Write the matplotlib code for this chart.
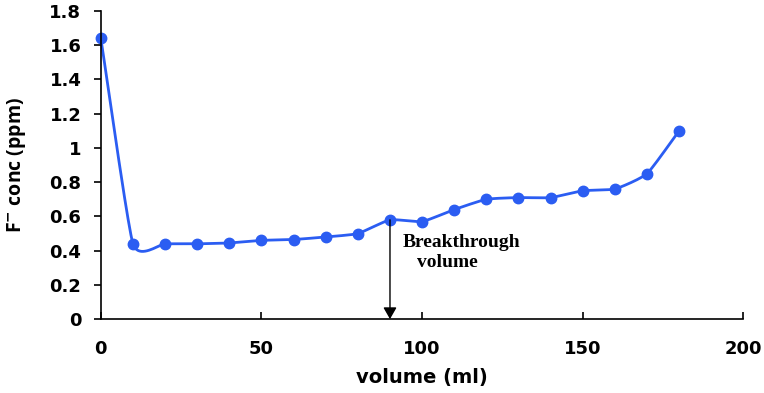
import numpy as np
import matplotlib
matplotlib.use("Agg")
import matplotlib.pyplot as plt

volume = [0, 10, 20, 30, 40, 50, 60, 70, 80, 90, 100, 110, 120, 130, 140, 150, 160, 170, 180]
conc = [1.64, 0.44, 0.44, 0.44, 0.445, 0.46, 0.465, 0.48, 0.50, 0.58, 0.57, 0.64, 0.70,
        0.71, 0.71, 0.75, 0.76, 0.85, 1.10]
x_ticks = [0, 50, 100, 150, 200]
y_ticks = [0, 0.2, 0.4, 0.6, 0.8, 1, 1.2, 1.4, 1.6, 1.8]
breakthrough = 90


def smooth(x, y, n=20, tension=0.5):
    # Hermite smoothing with damped tangents, like the spreadsheet "smoothed line"
    x = np.asarray(x, float)
    y = np.asarray(y, float)
    px = np.concatenate([[2 * x[0] - x[1]], x, [2 * x[-1] - x[-2]]])
    py = np.concatenate([[2 * y[0] - y[1]], y, [2 * y[-1] - y[-2]]])
    t = np.linspace(0, 1, n, endpoint=False)
    h00 = 2 * t ** 3 - 3 * t ** 2 + 1
    h10 = t ** 3 - 2 * t ** 2 + t
    h01 = -2 * t ** 3 + 3 * t ** 2
    h11 = t ** 3 - t ** 2
    xs, ys = [], []
    for i in range(1, len(px) - 2):
        for p, out in ((px, xs), (py, ys)):
            m1 = tension * (p[i + 1] - p[i - 1]) / 2
            m2 = tension * (p[i + 2] - p[i]) / 2
            out.extend(h00 * p[i] + h10 * m1 + h01 * p[i + 1] + h11 * m2)
    xs.append(x[-1])
    ys.append(y[-1])
    return np.array(xs), np.array(ys)


blue = '#2b5df2'

fig = plt.figure(figsize=(7.64, 3.93), dpi=100)
ax = fig.add_axes([0.132, 0.188, 0.841, 0.784])

sx, sy = smooth(volume, conc)
ax.plot(sx, sy, color=blue, lw=2, clip_on=False)
ax.plot(volume, conc, 'o', color=blue, ms=7.5, clip_on=False)

bi = volume.index(breakthrough)
ax.annotate('', xy=(breakthrough, 0), xytext=(breakthrough, conc[bi]),
            arrowprops=dict(arrowstyle='-|>,head_length=0.7,head_width=0.4', color='black',
                            lw=1, mutation_scale=10, shrinkA=0, shrinkB=0))
ax.text(93.8, 0.45, 'Breakthrough', family='Liberation Serif', fontweight='bold',
        fontsize=14, va='center', ha='left')
ax.text(107.8, 0.33, 'volume', family='Liberation Serif', fontweight='bold',
        fontsize=14, va='center', ha='center')

ax.set_xlim(0, 200)
ax.set_ylim(0, 1.8)
ax.set_xticks(x_ticks)
ax.set_yticks(y_ticks)
ax.set_yticklabels([f'{v:g}' for v in y_ticks])
for s in ('top', 'right'):
    ax.spines[s].set_visible(False)
for s in ('left', 'bottom'):
    ax.spines[s].set_linewidth(1.2)
ax.tick_params(axis='x', direction='in', length=5, width=1.2, pad=15, labelsize=13)
ax.tick_params(axis='y', direction='out', length=5, width=1.2, pad=9, labelsize=13)
for lab in ax.get_xticklabels() + ax.get_yticklabels():
    lab.set_fontweight('bold')

ax.set_xlabel('volume (ml)', fontsize=14, fontweight='bold', labelpad=7)
ax.set_ylabel('F$^{\\mathbf{-}}$ conc (ppm)', fontsize=14, fontweight='bold',
              family=['Open Sans', 'DejaVu Sans'])
ax.yaxis.set_label_coords(-0.113, 0.5)

fig.savefig('out.png', dpi=100)
